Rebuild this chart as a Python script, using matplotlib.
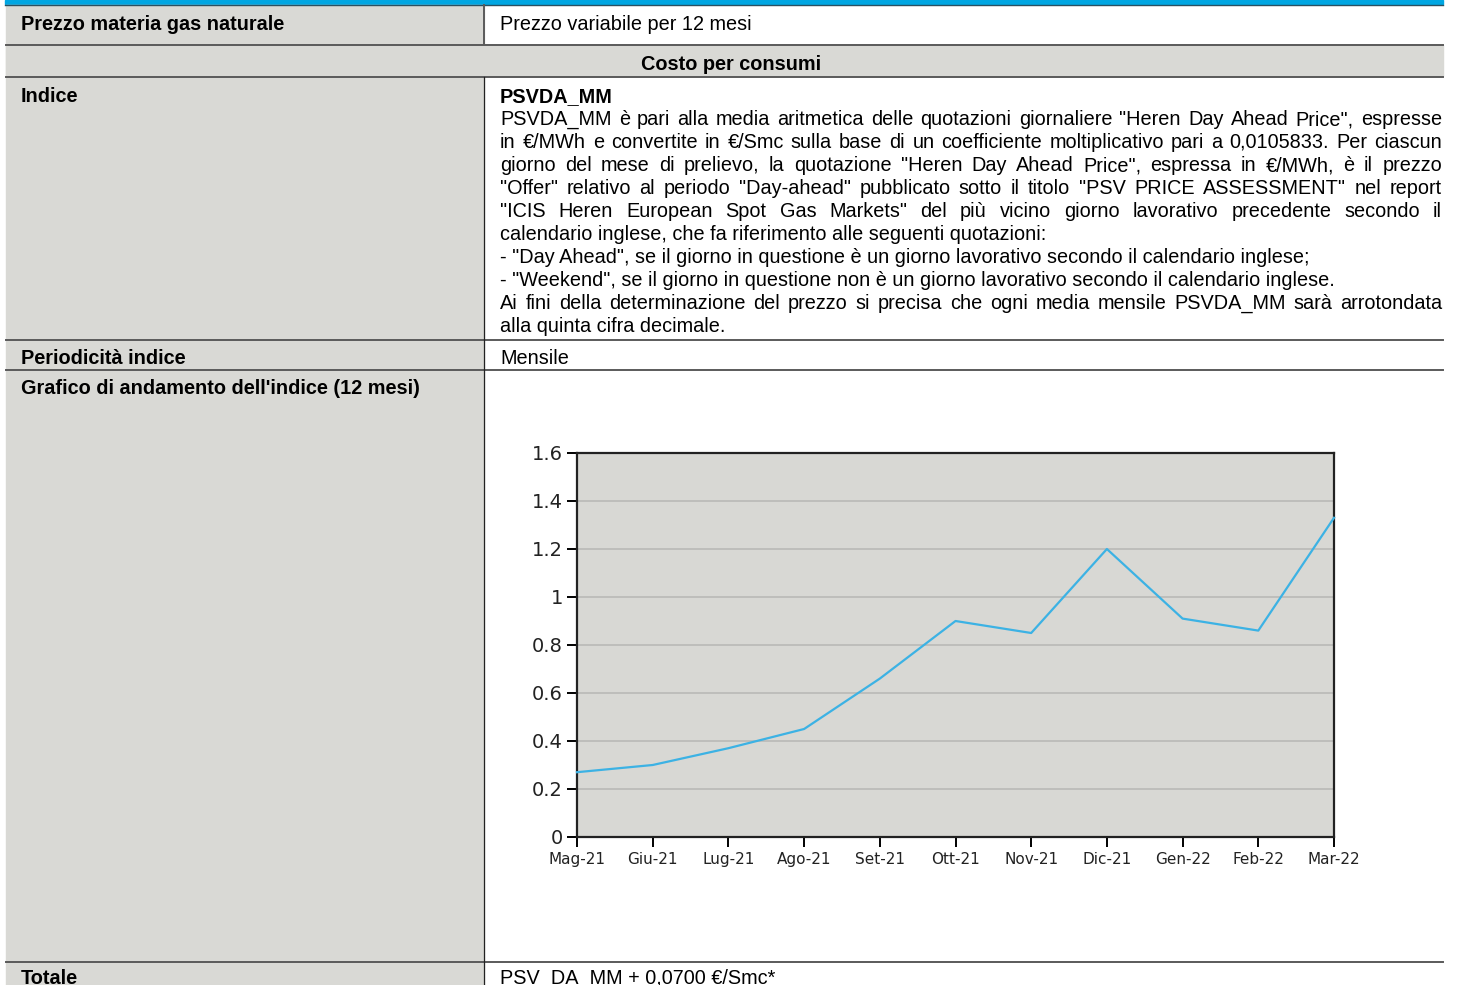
import matplotlib.pyplot as plt
from matplotlib.patches import Rectangle

# chart data
months = ['Mag-21', 'Giu-21', 'Lug-21', 'Ago-21', 'Set-21', 'Ott-21',
          'Nov-21', 'Dic-21', 'Gen-22', 'Feb-22', 'Mar-22']
psv_da_mm = [0.27, 0.30, 0.37, 0.45, 0.66, 0.90, 0.85, 1.20, 0.91, 0.86, 1.33]
y_ticks = [0, 0.2, 0.4, 0.6, 0.8, 1.0, 1.2, 1.4, 1.6]
y_tick_labels = ['0', '0.2', '0.4', '0.6', '0.8', '1', '1.2', '1.4', '1.6']

# table text
row_labels = ['Prezzo materia gas naturale', 'Indice', 'Periodicità indice',
              "Grafico di andamento dell'indice (12 mesi)", 'Totale']
header = 'Costo per consumi'
price_type = 'Prezzo variabile per 12 mesi'
index_name = 'PSVDA_MM'
index_lines = [
    ('PSVDA_MM è pari alla media aritmetica delle quotazioni giornaliere "Heren Day Ahead Price", espresse', True),
    ('in €/MWh e convertite in €/Smc sulla base di un coefficiente moltiplicativo pari a 0,0105833. Per ciascun', True),
    ('giorno del mese di prelievo, la quotazione "Heren Day Ahead Price", espressa in €/MWh, è il prezzo', True),
    ('"Offer" relativo al periodo "Day-ahead" pubblicato sotto il titolo "PSV PRICE ASSESSMENT" nel report', True),
    ('"ICIS Heren European Spot Gas Markets" del più vicino giorno lavorativo precedente secondo il', True),
    ('calendario inglese, che fa riferimento alle seguenti quotazioni:', False),
    ('- "Day Ahead", se il giorno in questione è un giorno lavorativo secondo il calendario inglese;', False),
    ('- "Weekend", se il giorno in questione non è un giorno lavorativo secondo il calendario inglese.', False),
    ('Ai fini della determinazione del prezzo si precisa che ogni media mensile PSVDA_MM sarà arrotondata', True),
    ('alla quinta cifra decimale.', False),
]
periodicity = 'Mensile'
total = 'PSV_DA_MM + 0,0700 €/Smc*'

W, H = 1458, 985
gray = '#d9d9d5'
line_c = '#5a5a5a'
font = 'Liberation Sans'
fs = 14.3

fig = plt.figure(figsize=(W / 100, H / 100), dpi=100)
bg = fig.add_axes([0, 0, 1, 1])
bg.set_xlim(0, W)
bg.set_ylim(H, 0)
bg.axis('off')

# cells
x0, xm, x1 = 6, 484, 1443
bg.add_patch(Rectangle((0, 0), W, H, color='white', zorder=0))
bg.add_patch(Rectangle((5, 0), x1 - 5, 4, color='#00a6e2', zorder=1))
bg.plot([5, x1], [4.5, 4.5], color='#2a5060', lw=1)
bg.add_patch(Rectangle((x0, 5), xm - x0, H, color=gray, zorder=1))
bg.add_patch(Rectangle((x0, 45), x1 - x0, 31, color=gray, zorder=1))
for yy in [44.5, 76.5, 339.5, 370, 961.5]:
    bg.plot([x0, x1], [yy, yy], color=line_c, lw=1.4, zorder=3)
bg.plot([xm, xm], [5, 44], color=line_c, lw=1.4, zorder=3)
bg.plot([xm, xm], [77, H], color='#222222', lw=0.9, zorder=3)

# left labels
for lab, yb in zip(row_labels, [30, 102, 363.5, 394.5, 984]):
    bg.text(21, yb, lab, fontsize=fs, fontweight='bold', family=font,
            va='baseline', ha='left', zorder=4)
bg.text(731, 70, header, fontsize=fs, fontweight='bold', family=font,
        va='baseline', ha='center', zorder=4)
bg.text(500, 30, price_type, fontsize=fs, family=font, va='baseline', zorder=4)
bg.text(500, 102, index_name, fontsize=fs, fontweight='bold', family=font,
        va='baseline', zorder=4)
bg.text(500, 363.5, periodicity, fontsize=fs, family=font, va='baseline', zorder=4)
bg.text(500, 984, total, fontsize=fs, family=font, va='baseline', zorder=4)

# justified paragraph
renderer = fig.canvas.get_renderer()
tx0, tx1 = 500, 1442
for i, (line, just) in enumerate(index_lines):
    yb = 125 + 23 * i
    if not just:
        bg.text(tx0, yb, line, fontsize=fs, family=font, va='baseline', zorder=4)
        continue
    words = line.split(' ')
    texts = [bg.text(0, yb, w, fontsize=fs, family=font, va='baseline', zorder=4)
             for w in words]
    widths = [t.get_window_extent(renderer).width for t in texts]
    gap = (tx1 - tx0 - sum(widths)) / (len(words) - 1)
    xx = tx0
    for t, wd in zip(texts, widths):
        t.set_x(xx)
        xx += wd + gap

# chart
cl, cr, ct, cb = 577, 1334, 453, 837
ax = fig.add_axes([cl / W, (H - cb) / H, (cr - cl) / W, (cb - ct) / H])
ax.set_facecolor('#d8d8d4')
ax.plot(range(len(months)), psv_da_mm, color='#3cb2e4', lw=1.6, zorder=3,
        clip_on=False)
ax.set_xlim(0, len(months) - 1)
ax.set_ylim(0, 1.6)
ax.set_yticks(y_ticks)
ax.set_yticklabels(y_tick_labels, fontsize=14, color='#222222')
ax.set_xticks(range(len(months)))
ax.set_xticklabels(months, fontsize=11, color='#222222')
for g in y_ticks[1:-1]:
    ax.axhline(g, color='#b9b9b6', lw=1.2, zorder=1)
for s in ax.spines.values():
    s.set_linewidth(1.6)
    s.set_color('#222222')
ax.tick_params(axis='y', length=7, width=1.4, pad=3)
ax.tick_params(axis='x', length=7, width=1.4, pad=4)

fig.savefig('out.png', dpi=100)
